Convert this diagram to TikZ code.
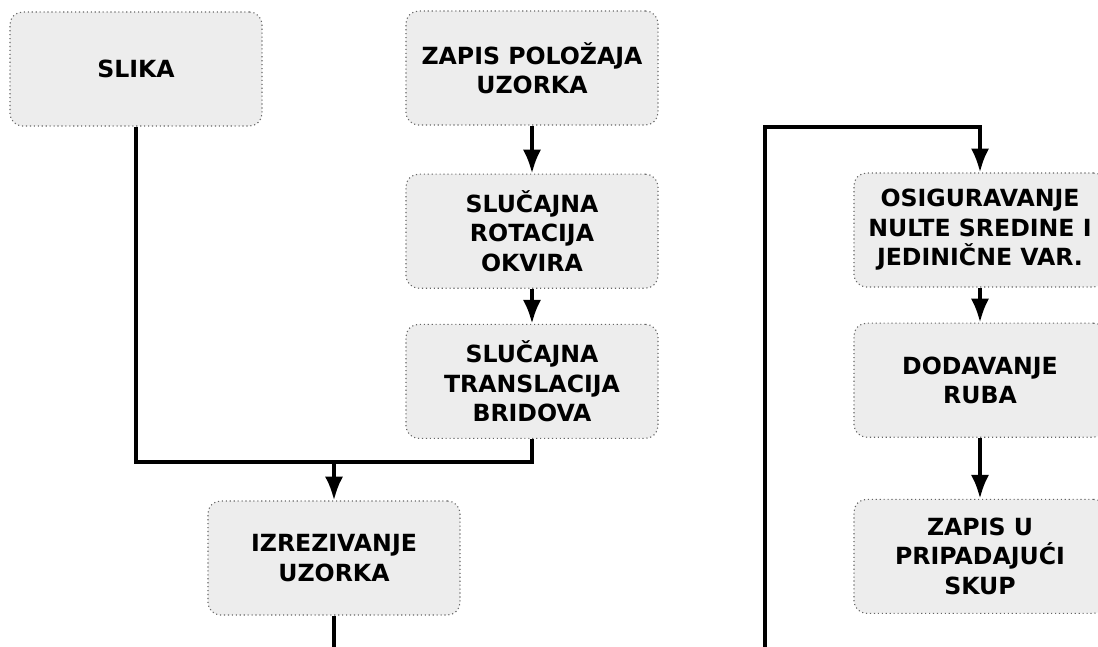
\documentclass[tikz,border=0pt]{standalone}
\usepackage{fontspec}
\setmainfont{DejaVu Sans}
\usetikzlibrary{positioning,arrows.meta}
\tikzset{
>={Latex[length=17pt,width=13pt]},
}

\begin{document}
\begin{tikzpicture}[x=0.025cm,y=-0.025cm]
      \tikzset{
          block/.style={rectangle, rounded corners=9pt, draw=black!60, dotted, line width=0.8pt, fill=black!7, minimum width=6.3cm, minimum height=2.85cm, inner sep=0.2em, align=center, font=\fontsize{16.8}{21}\selectfont\bfseries},
          myarrow/.style={draw, line width=2.8pt, ->},
          myline/.style={draw, line width=2.8pt},
      }
      \useasboundingbox (0,0) rectangle (1098,646);

      \node[block] (item1) at (136,69) {SLIKA};
      \node[block] (item2) at (532,68) {ZAPIS POLOŽAJA\\UZORKA};
      \node[block, below=1.2cm of item2] (item3) {SLUČAJNA\\ROTACIJA\\OKVIRA};
      \node[block, below=0.875cm of item3] (item4) {SLUČAJNA\\TRANSLACIJA\\BRIDOVA};
      \node[block] (item5) at (334,558) {IZREZIVANJE\\UZORKA};
      \node[block] (item6) at (980,230) {OSIGURAVANJE\\NULTE SREDINE I\\JEDINIČNE VAR.};
      \node[block, below=0.875cm of item6] (item7) {DODAVANJE\\RUBA};
      \node[block, below=1.525cm of item7] (item8) {ZAPIS U\\PRIPADAJUĆI\\SKUP};

      \coordinate (AuxNode01) at (334,462);
      \coordinate (AuxNode02) at (334,660);
      \coordinate (AuxNode03) at (765,660);
      \coordinate (AuxNode04) at (765,127);

      \path[myarrow] (item2) -- (item3);
      \path[myarrow] (item3) -- (item4);
      \path[myline] (item1.south) |- (AuxNode01);
      \path[myline] (item4.south) |- (AuxNode01);
      \path[myarrow] (AuxNode01) -- (item5.north);
      \path[myline] (item5.south) -- (AuxNode02);
      \path[myarrow] (AuxNode03) -- (AuxNode04) -| (item6.north);
      \path[myarrow] (item6) -- (item7);
      \path[myarrow] (item7) -- (item8);

\end{tikzpicture}
\end{document}
